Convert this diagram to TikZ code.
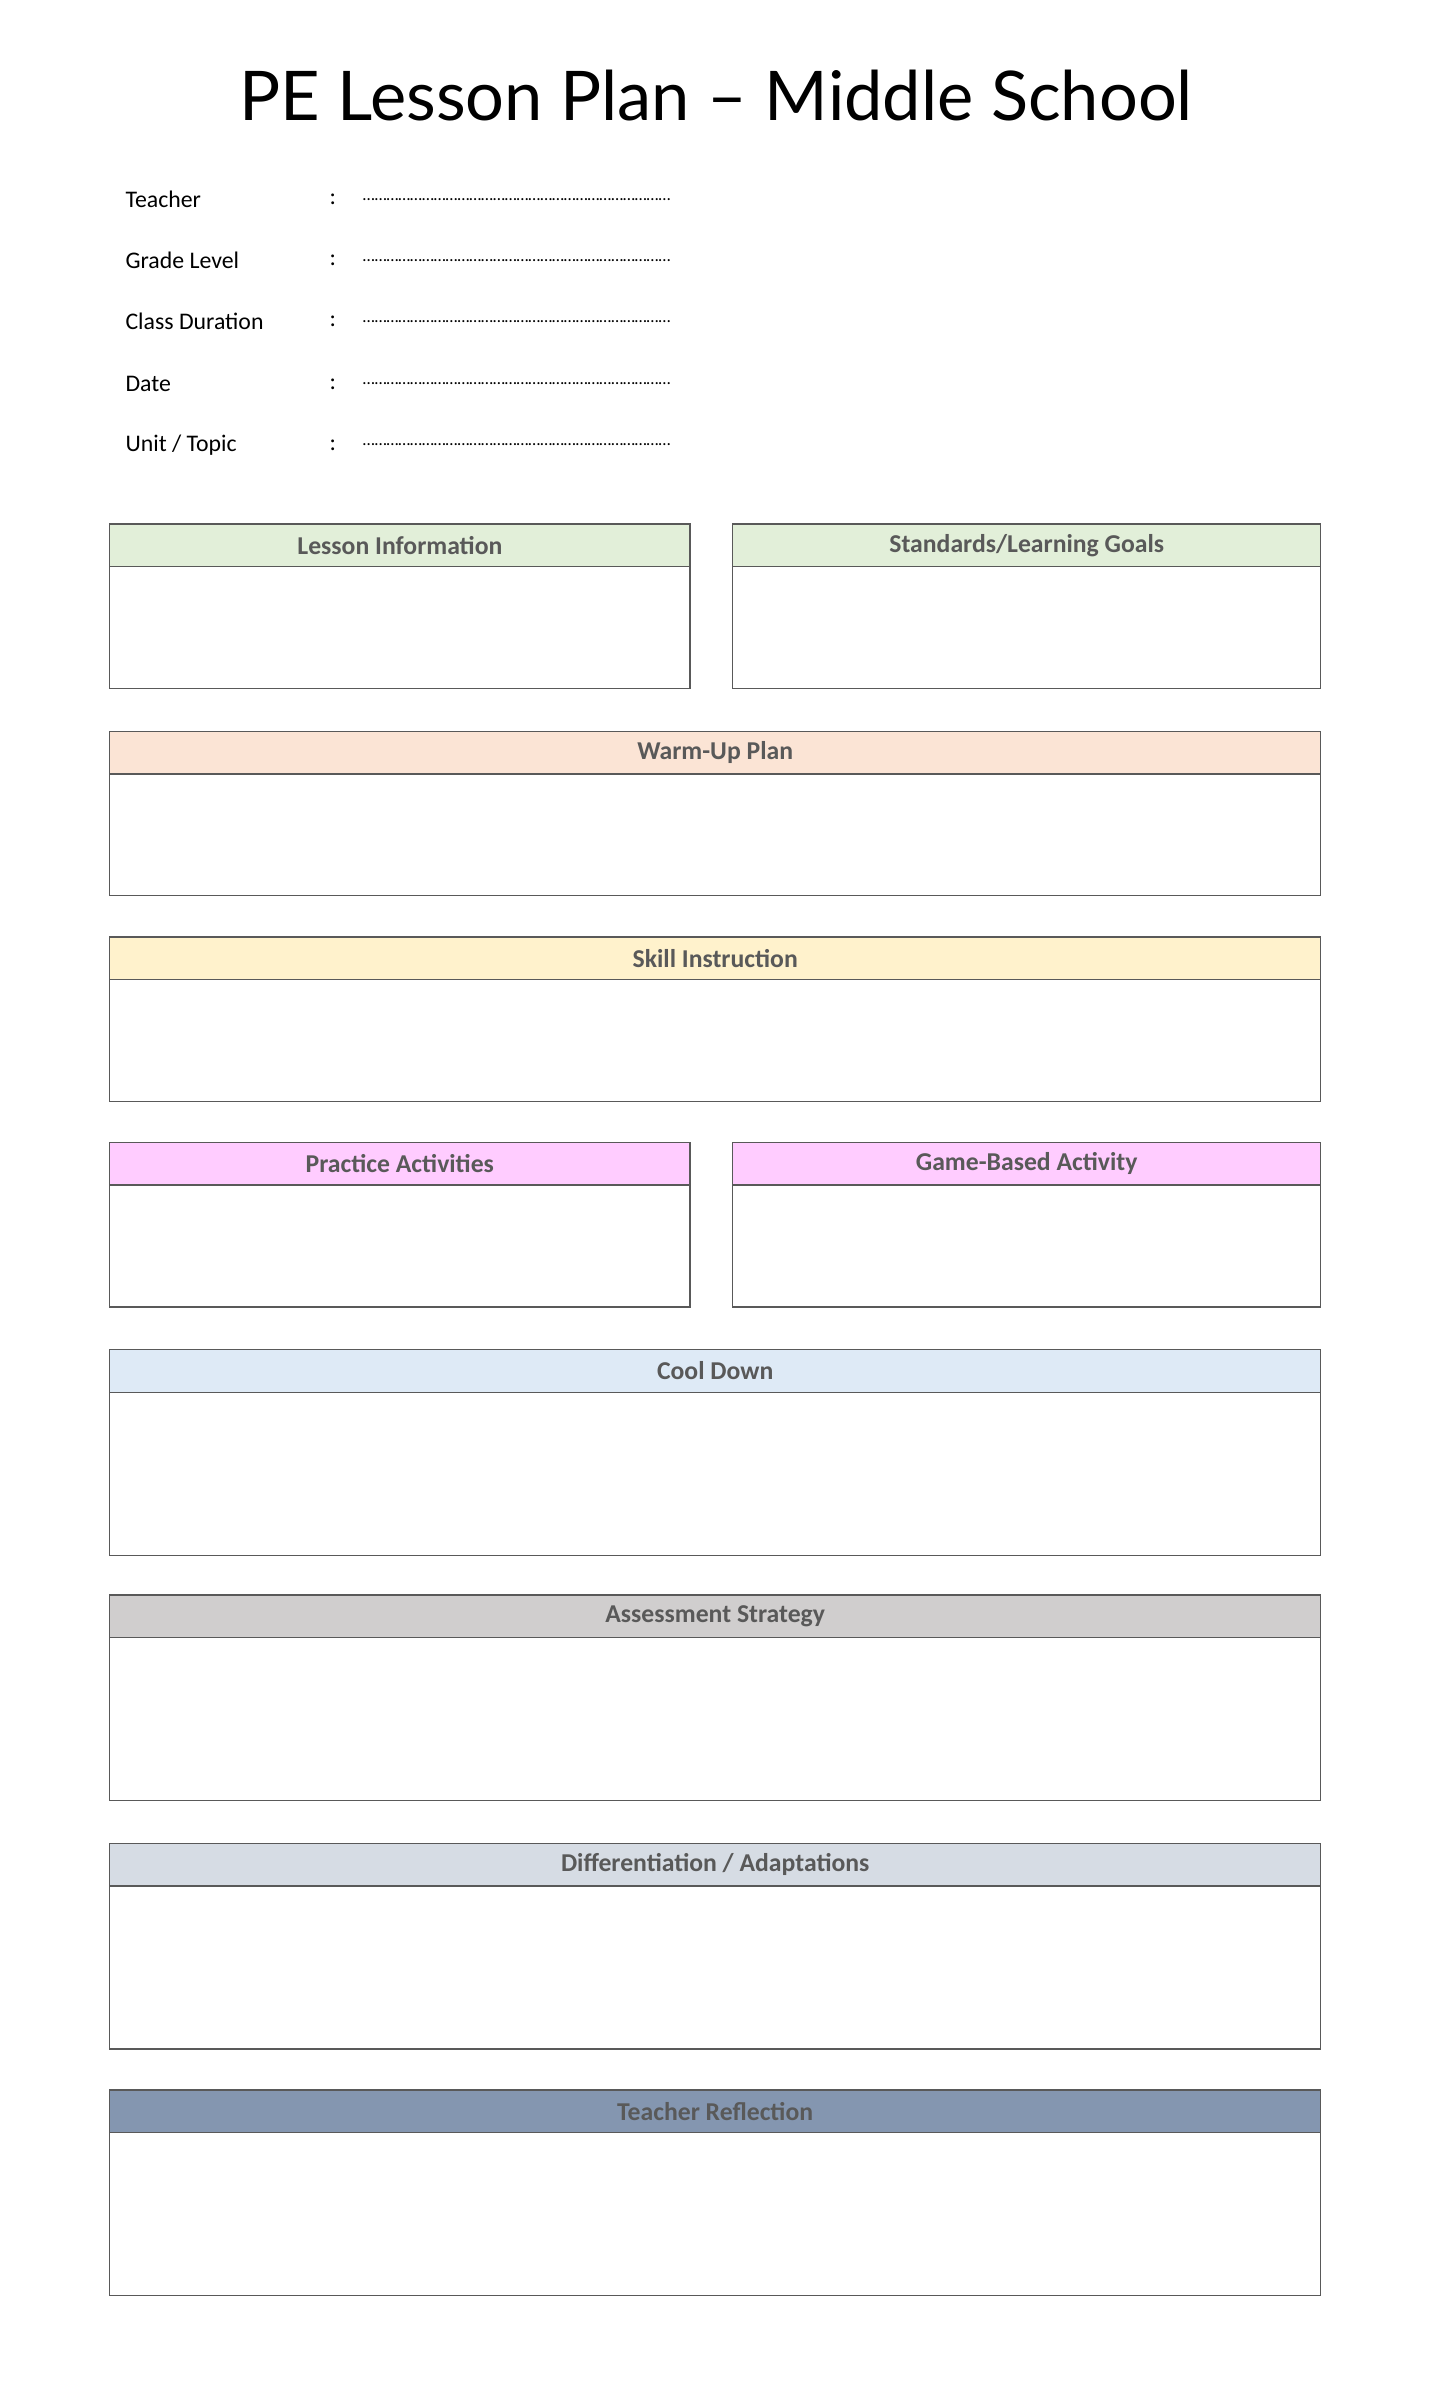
\documentclass[tikz,border=0pt]{standalone}
\usepackage{fontspec}
\setmainfont{Carlito}
\newfontfamily\titlefont{Lato}
\definecolor{cA}{HTML}{E2EFD9}
\definecolor{cB}{HTML}{FBE4D5}
\definecolor{cC}{HTML}{FFF2CC}
\definecolor{cD}{HTML}{FFCCFF}
\definecolor{cE}{HTML}{DEEAF6}
\definecolor{cF}{HTML}{D0CECE}
\definecolor{cG}{HTML}{D6DCE4}
\definecolor{cH}{HTML}{8496B0}
\definecolor{htext}{HTML}{595959}
\definecolor{bord}{HTML}{595959}
\tikzset{
 bodybox/.style={draw=bord,line width=0.7pt},
 lab/.style={anchor=west,font=\fontsize{12.5}{14}\selectfont},
 hdrtext/.style={text=htext,font=\fontsize{13.5}{15}\selectfont\bfseries},
}
\newcommand{\sect}[8]{%
 \fill[#7] (#2,#4) rectangle (#3,#5);
 \draw[bodybox] (#2,#4) rectangle (#3,#6);
 \draw[bodybox] (#2,#5) -- (#3,#5);
 \node[hdrtext] (#1) at ({(#2+#3)/2},{(#4+#5)/2}) {#8};
}
\begin{document}
\begin{tikzpicture}[x=0.8pt,y=-0.8pt]
\useasboundingbox (0,0) rectangle (940,1565);
\node (title) at (470,63) {\titlefont\fontsize{36}{40}\selectfont PE Lesson Plan – Middle School};
\foreach \t/\y [count=\i] in {Teacher/131,Grade Level/171,Class Duration/211,Date/252,{Unit / Topic}/292}{
 \node[lab] (l\i) at (78,\y) {\t};
 \node[lab] (c\i) at (212,\y) {:};
 \node[lab,inner xsep=0pt] (d\i) at (238,\y) {\fontsize{9}{10}\selectfont ……………………………………………………………………};
}
\sect{li}{72}{453}{344}{372}{452}{cA}{Lesson Information}
\sect{sg}{481}{867}{344}{372}{452}{cA}{Standards/Learning Goals}
\sect{wu}{72}{867}{480}{508}{588}{cB}{Warm-Up Plan}
\sect{si}{72}{867}{615}{643}{723}{cC}{Skill Instruction}
\sect{pa}{72}{453}{750}{778}{858}{cD}{Practice Activities}
\sect{gb}{481}{867}{750}{778}{858}{cD}{Game-Based Activity}
\sect{cd}{72}{867}{886}{914}{1021}{cE}{Cool Down}
\sect{as}{72}{867}{1047}{1075}{1182}{cF}{Assessment Strategy}
\sect{da}{72}{867}{1210}{1238}{1345}{cG}{Differentiation / Adaptations}
\sect{tr}{72}{867}{1372}{1400}{1507}{cH}{Teacher Reflection}
\end{tikzpicture}
\end{document}
